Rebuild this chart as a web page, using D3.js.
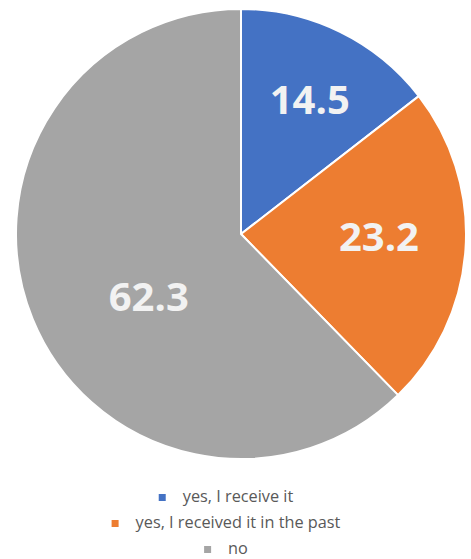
<!DOCTYPE html>
<html>
<head>
<meta charset="utf-8">
<script src="https://cdn.jsdelivr.net/npm/d3@7"></script>
<style>
  html, body { margin: 0; padding: 0; background: #fff; }
  svg { display: block; }
</style>
</head>
<body>
<svg id="chart" width="471" height="559"></svg>
<script>
// Survey answers and their shares (%)
const categories = ["yes, I receive it", "yes, I received it in the past", "no"];
const values = [14.5, 23.2, 62.3];
const colors = ["#4472C4", "#ED7D31", "#A5A5A5"];

const width = 471, height = 559;
const cx = 241, cy = 234, radius = 225;

// Label placement per slice: angle (deg, clockwise from top) and distance from centre
const labelPlacement = [
  { angle: 26.9, dist: 152 },
  { angle: 90.6, dist: 138 },
  { angle: 236.2, dist: 111 }
];

const svg = d3.select("#chart");

const pie = d3.pie().sort(null).value(d => d)(values);
const arc = d3.arc().innerRadius(0).outerRadius(radius);

const g = svg.append("g").attr("transform", `translate(${cx},${cy})`);

g.selectAll("path.slice")
  .data(pie)
  .join("path")
  .attr("class", "slice")
  .attr("d", arc)
  .attr("fill", (d, i) => colors[i])
  .attr("stroke", "#fff")
  .attr("stroke-width", 2)
  .attr("stroke-linejoin", "round");

g.selectAll("text.value")
  .data(pie)
  .join("text")
  .attr("class", "value")
  .attr("x", (d, i) => labelPlacement[i].dist * Math.sin(labelPlacement[i].angle * Math.PI / 180))
  .attr("y", (d, i) => -labelPlacement[i].dist * Math.cos(labelPlacement[i].angle * Math.PI / 180))
  .attr("text-anchor", "middle")
  .attr("dominant-baseline", "central")
  .attr("font-family", "'Open Sans', 'DejaVu Sans', sans-serif")
  .attr("font-weight", "bold")
  .attr("font-size", 40)
  .attr("fill", "#F2F2F2")
  .text(d => d3.format(".1f")(d.data));

// Legend: one entry per row, centred under the pie
const legendX = 238, legendY0 = 502, legendStep = 26;
const legend = svg.append("g");
categories.forEach((name, i) => {
  const row = legend.append("g");
  const t = row.append("text")
    .attr("x", legendX)
    .attr("y", legendY0 + i * legendStep)
    .attr("text-anchor", "middle")
    .attr("font-family", "'Open Sans', 'DejaVu Sans', sans-serif")
    .attr("font-size", 16.3)
    .attr("fill", "#595959")
    .text(name);
  const w = t.node().getComputedTextLength();
  const textStart = legendX - w / 2;
  row.append("rect")
    .attr("x", textStart - 24)
    .attr("y", legendY0 + i * legendStep - 8)
    .attr("width", 7)
    .attr("height", 7)
    .attr("fill", colors[i]);
});
</script>
</body>
</html>
